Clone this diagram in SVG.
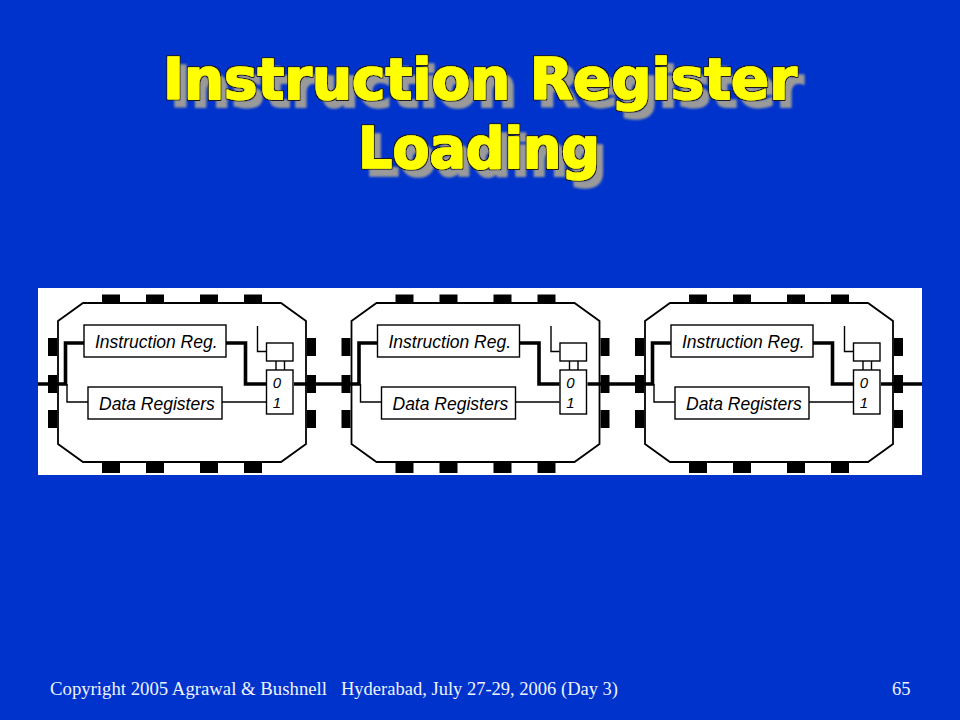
<svg xmlns="http://www.w3.org/2000/svg" width="960" height="720" viewBox="0 0 960 720">
<defs>
<style>
.title{font-family:"DejaVu Sans","Liberation Sans",sans-serif;font-weight:bold;font-size:57px;fill:#FFFF00;stroke:#FFFF00;stroke-width:1.6;stroke-linejoin:round}
.foot{font-family:"Liberation Serif","Times New Roman",serif;font-size:18.5px;fill:#EEF2FF}
.body{fill:#fff;stroke:#000;stroke-width:1.8;stroke-linejoin:miter}
.pin{fill:#000}
.box{fill:#fff;stroke:#000;stroke-width:1.4}
.lbl{font-family:"Liberation Sans",Arial,sans-serif;font-style:italic;font-size:17.5px;fill:#000}
.mux{font-family:"Liberation Sans",Arial,sans-serif;font-style:italic;font-size:15px;fill:#000;text-anchor:middle}
.thick{fill:none;stroke:#000;stroke-width:3.6;stroke-linejoin:miter}
.thin{fill:none;stroke:#000;stroke-width:1.4}
</style>
<filter id="ttl" x="-5%" y="-30%" width="115%" height="170%">
<feMorphology in="SourceAlpha" operator="dilate" radius="1" result="dil"/>
<feFlood flood-color="#1a1a1a" result="dk"/>
<feComposite in="dk" in2="dil" operator="in" result="outline"/>
<feGaussianBlur in="SourceAlpha" stdDeviation="0.8" result="b"/>
<feOffset in="b" dx="7" dy="8" result="off"/>
<feFlood flood-color="#9a9a9a"/>
<feComposite in2="off" operator="in" result="shadow"/>
<feMerge><feMergeNode in="shadow"/><feMergeNode in="outline"/><feMergeNode in="SourceGraphic"/></feMerge>
</filter>
</defs>
<rect x="0" y="0" width="960" height="720" fill="#0033CC"/>
<g id="title" filter="url(#ttl)">
<text class="title" x="163" y="99" textLength="634" lengthAdjust="spacingAndGlyphs">Instruction Register</text>
<text class="title" x="358" y="168" textLength="242" lengthAdjust="spacingAndGlyphs">Loading</text>
</g>
<rect id="panel" x="38" y="288" width="884" height="187" fill="#fff"/>
<g id="chip1">
<polygon class="body" points="83,303 281,303 306,321 306,444 281,462 83,462 58,444 58,321"/>
<g class="pin">
<rect x="102" y="294.5" width="18" height="8.5"/><rect x="146" y="294.5" width="18" height="8.5"/><rect x="200" y="294.5" width="18" height="8.5"/><rect x="244" y="294.5" width="18" height="8.5"/>
<rect x="102" y="463" width="18" height="10"/><rect x="146" y="463" width="18" height="10"/><rect x="200" y="463" width="18" height="10"/><rect x="244" y="463" width="18" height="10"/>
<rect x="48" y="338" width="9" height="18"/><rect x="48" y="375" width="9" height="18"/><rect x="48" y="410" width="9" height="18"/>
<rect x="307" y="338" width="9" height="18"/><rect x="307" y="375" width="9" height="18"/><rect x="307" y="410" width="9" height="18"/>
</g>
</g>
<g id="chip2" transform="translate(293.5,0)">
<polygon class="body" points="83,303 281,303 306,321 306,444 281,462 83,462 58,444 58,321"/>
<g class="pin">
<rect x="102" y="294.5" width="18" height="8.5"/><rect x="146" y="294.5" width="18" height="8.5"/><rect x="200" y="294.5" width="18" height="8.5"/><rect x="244" y="294.5" width="18" height="8.5"/>
<rect x="102" y="463" width="18" height="10"/><rect x="146" y="463" width="18" height="10"/><rect x="200" y="463" width="18" height="10"/><rect x="244" y="463" width="18" height="10"/>
<rect x="48" y="338" width="9" height="18"/><rect x="48" y="375" width="9" height="18"/><rect x="48" y="410" width="9" height="18"/>
<rect x="307" y="338" width="9" height="18"/><rect x="307" y="375" width="9" height="18"/><rect x="307" y="410" width="9" height="18"/>
</g>
</g>
<g id="chip3" transform="translate(587,0)">
<polygon class="body" points="83,303 281,303 306,321 306,444 281,462 83,462 58,444 58,321"/>
<g class="pin">
<rect x="102" y="294.5" width="18" height="8.5"/><rect x="146" y="294.5" width="18" height="8.5"/><rect x="200" y="294.5" width="18" height="8.5"/><rect x="244" y="294.5" width="18" height="8.5"/>
<rect x="102" y="463" width="18" height="10"/><rect x="146" y="463" width="18" height="10"/><rect x="200" y="463" width="18" height="10"/><rect x="244" y="463" width="18" height="10"/>
<rect x="48" y="338" width="9" height="18"/><rect x="48" y="375" width="9" height="18"/><rect x="48" y="410" width="9" height="18"/>
<rect x="307" y="338" width="9" height="18"/><rect x="307" y="375" width="9" height="18"/><rect x="307" y="410" width="9" height="18"/>
</g>
</g>
<g id="connectors">
<path class="thick" d="M38 384 H65.5 V343 H84 M226 343 H245.5 V384 H266 M294 384 H359 V343 H377.5 M519.5 343 H539 V384 H559.5 M587.5 384 H652.5 V343 H671 M813 343 H832.5 V384 H853 M881 384 H922"/>
<path class="thin" d="M67 384 V402 H88 M222 402 H266 M257.5 326 V351.5 H266 M276 361 V370 M284.5 361 V370"/>
<path class="thin" d="M360.5 384 V402 H381.5 M515.5 402 H559.5 M551 326 V351.5 H559.5 M569.5 361 V370 M578 361 V370"/>
<path class="thin" d="M654 384 V402 H675 M809 402 H853 M844.5 326 V351.5 H853 M863 361 V370 M871.5 361 V370"/>
</g>
<g id="ir1"><rect class="box" x="84" y="325" width="142" height="32"/><text class="lbl" x="95" y="348">Instruction Reg.</text></g>
<g id="dr1"><rect class="box" x="88" y="387" width="134" height="32"/><text class="lbl" x="99" y="410">Data Registers</text></g>
<g id="ctl1"><rect class="box" x="266.5" y="343" width="26.5" height="18"/></g>
<g id="mux1"><rect class="box" x="266.5" y="370" width="26.5" height="44"/><text class="mux" x="277" y="388">0</text><text class="mux" x="277" y="408">1</text></g>
<g id="ir2"><rect class="box" x="377.5" y="325" width="142" height="32"/><text class="lbl" x="388.5" y="348">Instruction Reg.</text></g>
<g id="dr2"><rect class="box" x="381.5" y="387" width="134" height="32"/><text class="lbl" x="392.5" y="410">Data Registers</text></g>
<g id="ctl2"><rect class="box" x="560" y="343" width="26.5" height="18"/></g>
<g id="mux2"><rect class="box" x="560" y="370" width="26.5" height="44"/><text class="mux" x="570.5" y="388">0</text><text class="mux" x="570.5" y="408">1</text></g>
<g id="ir3"><rect class="box" x="671" y="325" width="142" height="32"/><text class="lbl" x="682" y="348">Instruction Reg.</text></g>
<g id="dr3"><rect class="box" x="675" y="387" width="134" height="32"/><text class="lbl" x="686" y="410">Data Registers</text></g>
<g id="ctl3"><rect class="box" x="853.5" y="343" width="26.5" height="18"/></g>
<g id="mux3"><rect class="box" x="853.5" y="370" width="26.5" height="44"/><text class="mux" x="864" y="388">0</text><text class="mux" x="864" y="408">1</text></g>
<g id="footer">
<text class="foot" x="50" y="695" textLength="277" lengthAdjust="spacingAndGlyphs">Copyright 2005 Agrawal &amp; Bushnell</text>
<text class="foot" x="341" y="695" textLength="277" lengthAdjust="spacingAndGlyphs">Hyderabad, July 27-29, 2006 (Day 3)</text>
<text class="foot" x="892" y="695">65</text>
</g>
</svg>
